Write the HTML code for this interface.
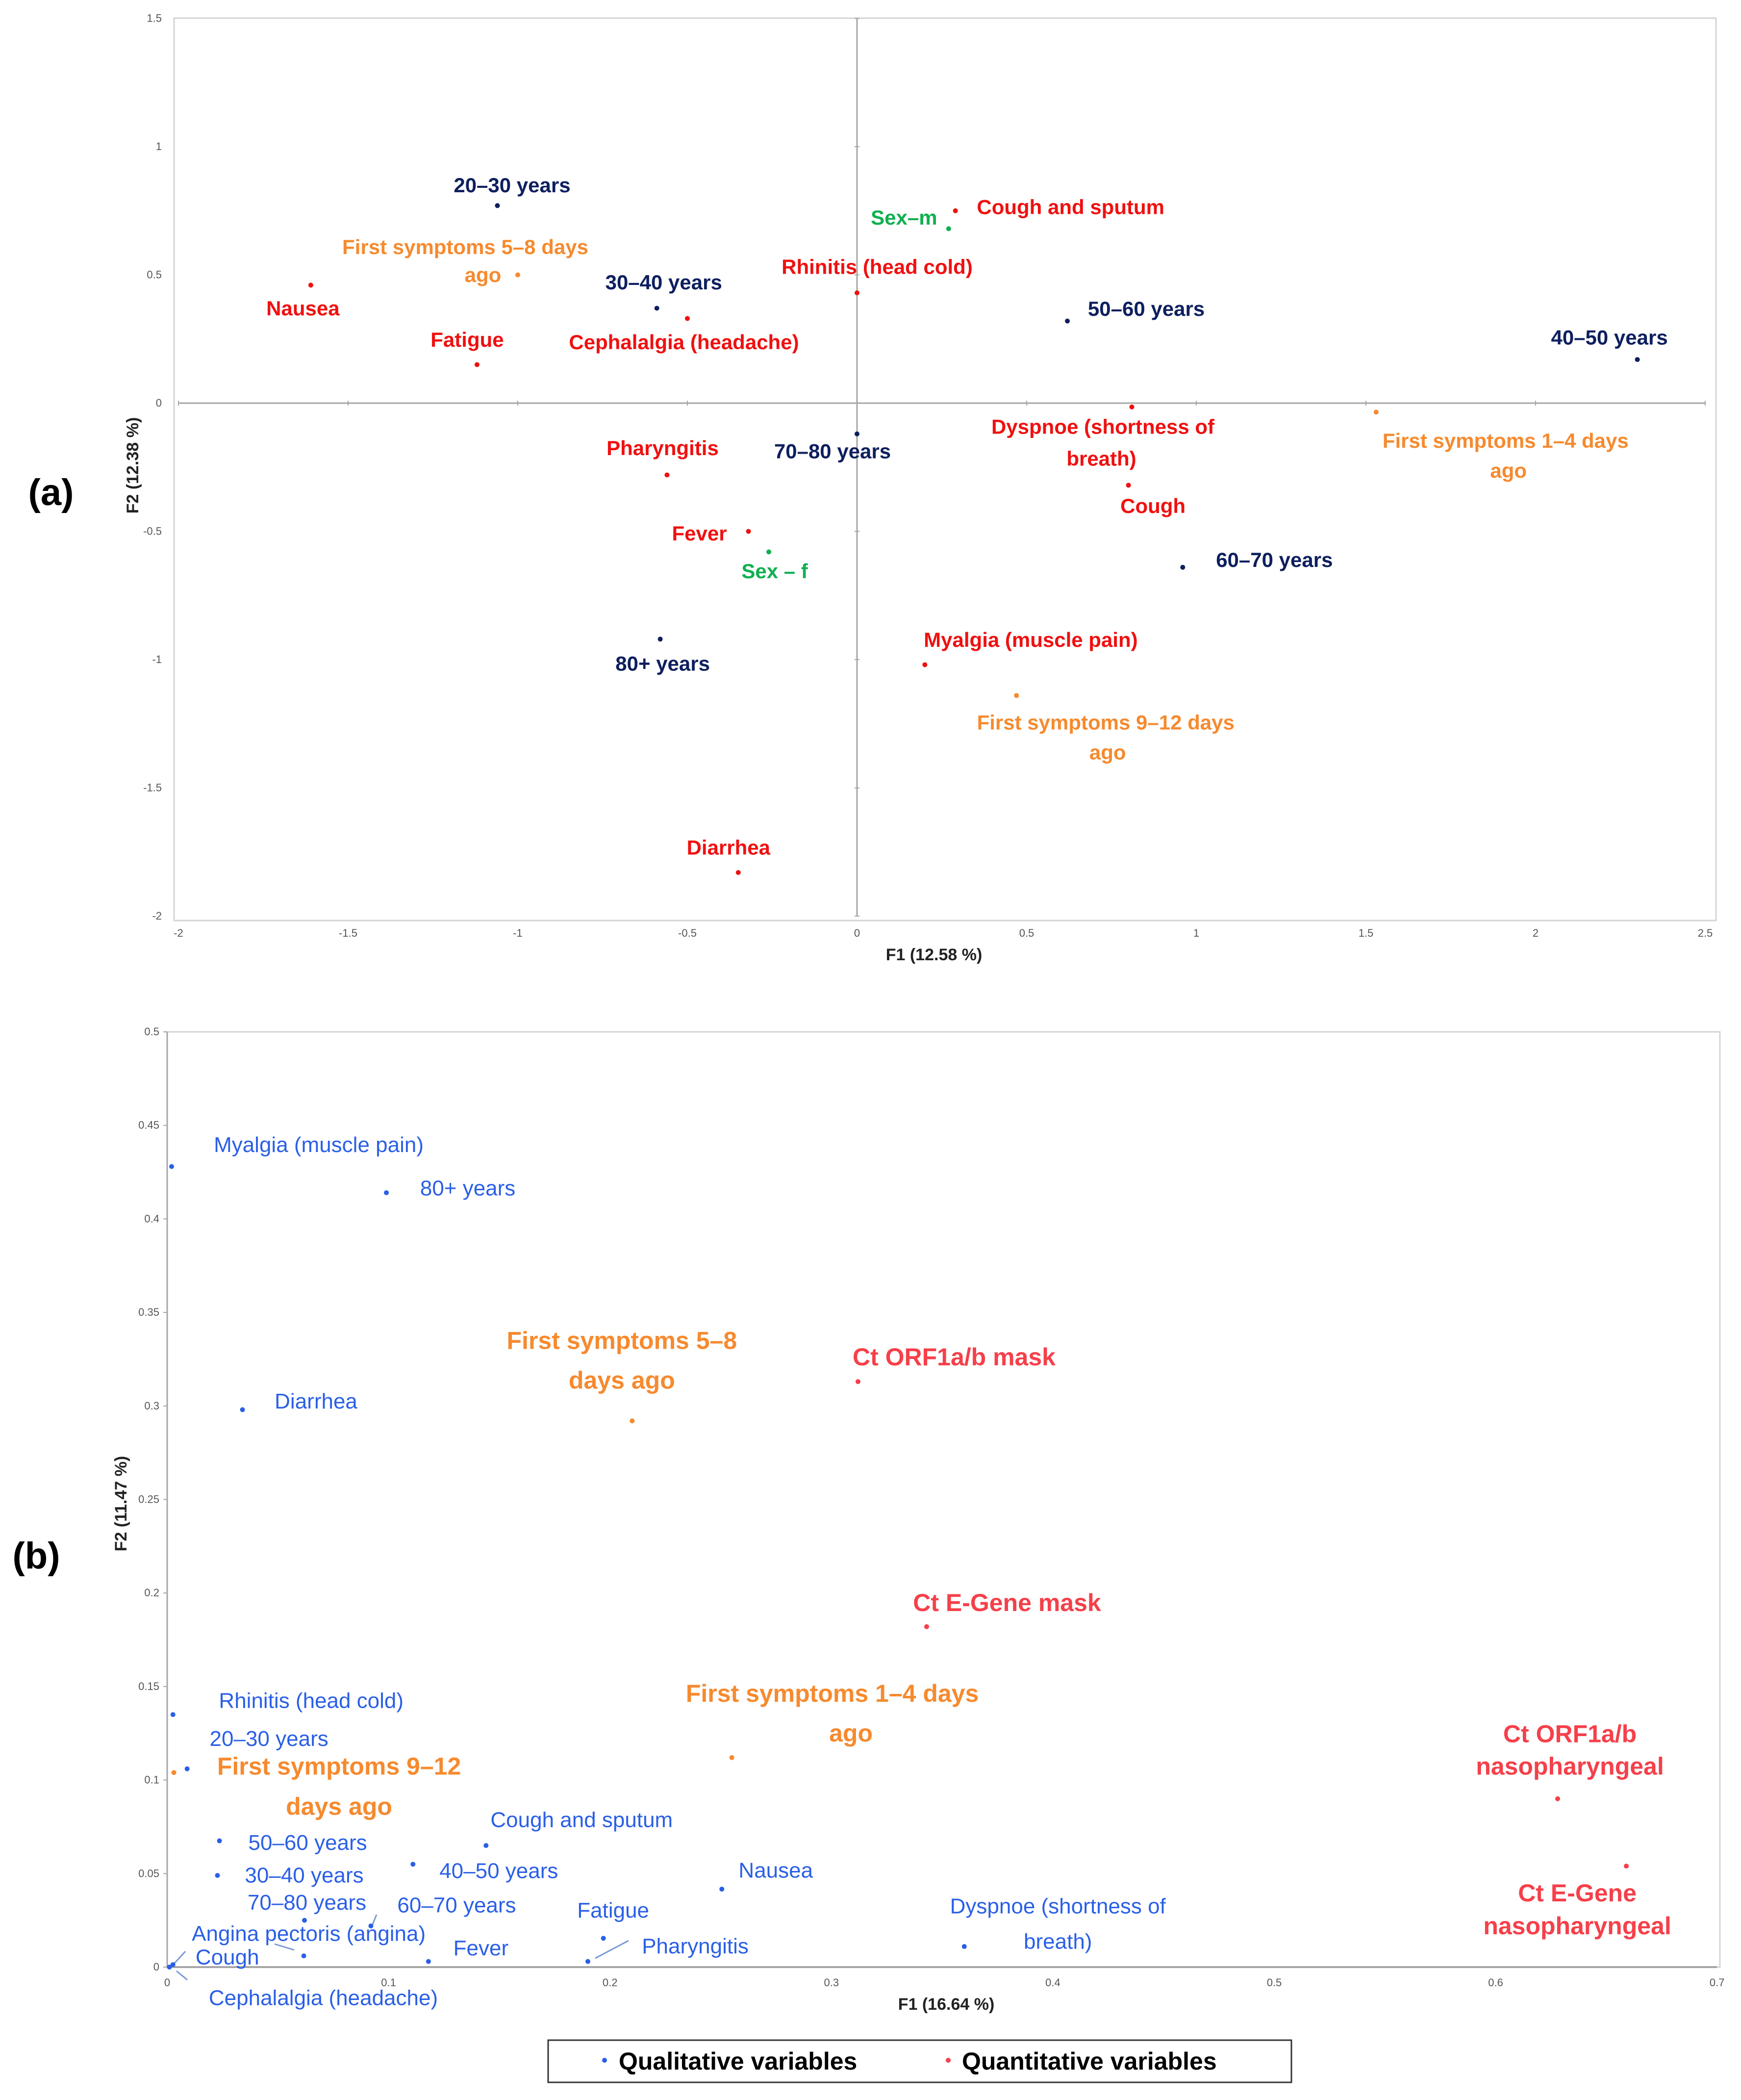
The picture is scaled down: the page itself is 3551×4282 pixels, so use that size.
<!DOCTYPE html>
<html><head><meta charset="utf-8"><style>
html,body{margin:0;padding:0;background:#fff;}
svg{display:block;font-family:"Liberation Sans",sans-serif;}
</style></head><body>
<svg id="chart" width="3551" height="4282" viewBox="0 0 3551 4282" xmlns="http://www.w3.org/2000/svg"></svg>
<script>
// ---------- Panel (a) data ----------
const aNames = ["20–30 years","First symptoms 5–8 days|ago","Nausea","30–40 years","Cephalalgia (headache)","Fatigue","Rhinitis (head cold)","Sex–m","Cough and sputum","50–60 years","40–50 years","Dyspnoe (shortness of|breath)","First symptoms 1–4 days|ago","70–80 years","Pharyngitis","Cough","Fever","Sex – f","60–70 years","80+ years","Myalgia (muscle pain)","First symptoms 9–12 days|ago","Diarrhea"];
const aF1 = [-1.06,-1.0,-1.61,-0.59,-0.50,-1.12,0.0,0.27,0.29,0.62,2.30,0.81,1.53,0.0,-0.56,0.80,-0.32,-0.26,0.96,-0.58,0.20,0.47,-0.35];
const aF2 = [0.77,0.50,0.46,0.37,0.33,0.15,0.43,0.68,0.75,0.32,0.17,-0.015,-0.035,-0.12,-0.28,-0.32,-0.50,-0.58,-0.64,-0.92,-1.02,-1.14,-1.83];
const aGroup = ["age","days","sym","age","sym","sym","sym","sex","sym","age","age","sym","days","age","sym","sym","sym","sex","age","age","sym","days","sym"];
const aXTicks = [-2,-1.5,-1,-0.5,0,0.5,1,1.5,2,2.5];
const aYTicks = [1.5,1,0.5,0,-0.5,-1,-1.5,-2];
// label offsets (style, px)
const aOff = [[[30,-42]],[[-107,-57],[-71,0]],[[-16,47]],[[14,-53]],[[-7,48]],[[-20,-51]],[[41,-53]],[[-91,-23]],[[235,-8]],[[161,-25]],[[-57,-45]],[[-59,40],[-62,105]],[[264,58],[270,119]],[[-50,35]],[[-9,-55]],[[50,42]],[[-100,4]],[[12,39]],[[187,-15]],[[5,50]],[[216,-51]],[[182,55],[186,116]],[[-20,-51]]];

// ---------- Panel (b) data ----------
const bNames = ["Myalgia (muscle pain)","80+ years","First symptoms 5–8|days ago","Ct ORF1a/b mask","Diarrhea","Ct E-Gene mask","Rhinitis (head cold)","First symptoms 1–4 days|ago","20–30 years","First symptoms 9–12|days ago","Ct ORF1a/b|nasopharyngeal","Ct E-Gene|nasopharyngeal","50–60 years","Cough and sputum","30–40 years","40–50 years","Nausea","70–80 years","60–70 years","Fatigue","Angina pectoris (angina)","Dyspnoe (shortness of|breath)","Fever","Pharyngitis","Cough","Cephalalgia (headache)"];
const bF1 = [0.002,0.099,0.21,0.312,0.034,0.343,0.0026,0.255,0.009,0.003,0.628,0.659,0.0236,0.144,0.0227,0.111,0.2505,0.062,0.092,0.197,0.0617,0.360,0.118,0.190,0.0026,0.001];
const bF2 = [0.428,0.414,0.292,0.313,0.298,0.182,0.135,0.112,0.106,0.104,0.090,0.054,0.0675,0.065,0.049,0.055,0.0417,0.025,0.022,0.0154,0.006,0.011,0.003,0.003,0.0013,0.0];
const bGroup = ["qual","qual","days","quant","qual","quant","qual","days","qual","days","quant","quant","qual","qual","qual","qual","qual","qual","qual","qual","qual","qual","qual","qual","qual","qual"];
const bXTicks = [0,0.1,0.2,0.3,0.4,0.5,0.6,0.7];
const bYTicks = [0,0.05,0.1,0.15,0.2,0.25,0.3,0.35,0.4,0.45,0.5];
const bOff = [[[300,-44]],[[166,-9]],[[-21,-164],[-21,-83]],[[196,-50]],[[150,-17]],[[164,-49]],[[282,-28]],[[205,-131],[243,-50]],[[167,-61]],[[337,-13],[337,69]],[[25,-132],[25,-66]],[[-100,55],[-100,122]],[[180,4]],[[195,-52]],[[177,0]],[[175,14]],[[110,-38]],[[5,-36]],[[175,-42]],[[20,-57]],[[10,-45]],[[191,-82],[191,-10]],[[107,-27]],[[219,-31]],[[111,-15]],[[314,63]]];

const NS="http://www.w3.org/2000/svg";
const svg=document.getElementById('chart');
function mk(tag,attrs,parent,txt){const e=document.createElementNS(NS,tag);for(const k in attrs)e.setAttribute(k,attrs[k]);if(txt!==undefined)e.textContent=txt;(parent||svg).appendChild(e);return e;}

// scales
const aX=v=>1748+v*692, aY=v=>822-v*523;
const bX=v=>341+v*4516, bY=v=>4011-v*3814;

const colA={age:"#0d1f5e",sym:"#f01010",days:"#f68a2e",sex:"#10b050"};
const colB={qual:"#2a5fe6",quant:"#f5404a",days:"#f68a2e"};

// ===== Panel (a) =====
const ga=mk('g',{});  
let r=mk('rect',{x:355,y:37,width:3145,height:1840,fill:"none",stroke:"#d4d4d4","stroke-width":3},ga);
 
let l=mk('line',{x1:aX(-2),x2:aX(2.5),y1:aY(0),y2:aY(0),stroke:"#a6a6a6","stroke-width":3},ga);
 
l=mk('line',{x1:aX(0),x2:aX(0),y1:aY(1.5),y2:aY(-2),stroke:"#a6a6a6","stroke-width":3},ga);
 
aXTicks.forEach(t=>{
  const tl=mk('line',{x1:aX(t),x2:aX(t),y1:aY(0)-5,y2:aY(0)+5,stroke:"#a6a6a6","stroke-width":2},ga);
   
  const tx=mk('text',{x:aX(t),y:1910,"font-size":22,fill:"#555","text-anchor":"middle"},ga,String(t));
   
});
aYTicks.forEach(t=>{
  const tl=mk('line',{x1:aX(0)-5,x2:aX(0)+5,y1:aY(t),y2:aY(t),stroke:"#a6a6a6","stroke-width":2},ga);
   
  const tx=mk('text',{x:330,y:aY(t)+7,"font-size":22,fill:"#555","text-anchor":"end"},ga,String(t));
   
});
let t=mk('text',{x:1905,y:1958,"font-size":34,"font-weight":"bold",fill:"#222","text-anchor":"middle"},ga,"F1 (12.58 %)");
 
t=mk('text',{x:0,y:0,"font-size":34,"font-weight":"bold",fill:"#222","text-anchor":"middle",transform:"translate(282,949) rotate(-90)"},ga,"F2 (12.38 %)");
 
t=mk('text',{x:104,y:1030,"font-size":76,"font-weight":"bold",fill:"#000","text-anchor":"middle"},ga,"(a)");
 
aNames.forEach((n,i)=>{
  const px=aX(aF1[i]),py=aY(aF2[i]),c=colA[aGroup[i]];
  const d=mk('circle',{cx:px,cy:py,r:5,fill:c},ga);
   
  n.split('|').forEach((line,j)=>{
    const o=aOff[i][j];
    const tx=mk('text',{x:px+o[0],y:py+o[1],"font-size":42,"font-weight":"bold",fill:c,"text-anchor":"middle","dominant-baseline":"central"},ga,line);
     
  });
});

// ===== Panel (b) =====
const gb=mk('g',{});  
r=mk('rect',{x:341,y:2104,width:3167,height:1907,fill:"none",stroke:"#d4d4d4","stroke-width":3},gb);
 
l=mk('line',{x1:bX(0),x2:bX(0.7),y1:bY(0),y2:bY(0),stroke:"#a6a6a6","stroke-width":4},gb);
 
l=mk('line',{x1:bX(0),x2:bX(0),y1:bY(0.5),y2:bY(0),stroke:"#a6a6a6","stroke-width":3},gb);
 
bXTicks.forEach(v=>{
  const tx=mk('text',{x:bX(v),y:4050,"font-size":22,fill:"#555","text-anchor":"middle"},gb,String(v));
   
});
bYTicks.forEach(v=>{
  const tl=mk('line',{x1:bX(0)-8,x2:bX(0),y1:bY(v),y2:bY(v),stroke:"#a6a6a6","stroke-width":2},gb);
   
  const tx=mk('text',{x:325,y:bY(v)+7,"font-size":22,fill:"#555","text-anchor":"end"},gb,String(v));
   
});
t=mk('text',{x:1930,y:4098,"font-size":34,"font-weight":"bold",fill:"#222","text-anchor":"middle"},gb,"F1 (16.64 %)");
 
t=mk('text',{x:0,y:0,"font-size":34,"font-weight":"bold",fill:"#222","text-anchor":"middle",transform:"translate(258,3066) rotate(-90)"},gb,"F2 (11.47 %)");
 
t=mk('text',{x:74,y:3198,"font-size":76,"font-weight":"bold",fill:"#000","text-anchor":"middle"},gb,"(b)");
 
// leader lines
[[356,4003,378,3979],[360,4019,382,4037],[1214,3993,1282,3957],[560,3964,600,3976],[760,3924,768,3904]].forEach(s=>{
  const ll=mk('line',{x1:s[0],y1:s[1],x2:s[2],y2:s[3],stroke:"#7a9ad8","stroke-width":3},gb);
   
});
bNames.forEach((n,i)=>{
  const px=bX(bF1[i]),py=bY(bF2[i]),g=bGroup[i],c=colB[g];
  const d=mk('circle',{cx:px,cy:py,r:5,fill:c},gb);
   
  n.split('|').forEach((line,j)=>{
    const o=bOff[i][j];
    const bold=g!=="qual";
    const tx=mk('text',{x:px+o[0],y:py+o[1],"font-size":bold?50:44,"font-weight":bold?"bold":"normal",fill:c,"text-anchor":"middle","dominant-baseline":"central"},gb,line);
     
  });
});

// legend
const lg=mk('g',{});  
r=mk('rect',{x:1118,y:4160,width:1516,height:86,fill:"#fff",stroke:"#333","stroke-width":3},lg);
 
let c=mk('circle',{cx:1233,cy:4201,r:5,fill:colB.qual},lg);
 
t=mk('text',{x:1262,y:4203,"font-size":50,"font-weight":"bold",fill:"#000","dominant-baseline":"central"},lg,"Qualitative variables");
 
c=mk('circle',{cx:1934,cy:4201,r:5,fill:colB.quant},lg);
 
t=mk('text',{x:1962,y:4203,"font-size":50,"font-weight":"bold",fill:"#000","dominant-baseline":"central"},lg,"Quantitative variables");
 
</script>
</body></html>
